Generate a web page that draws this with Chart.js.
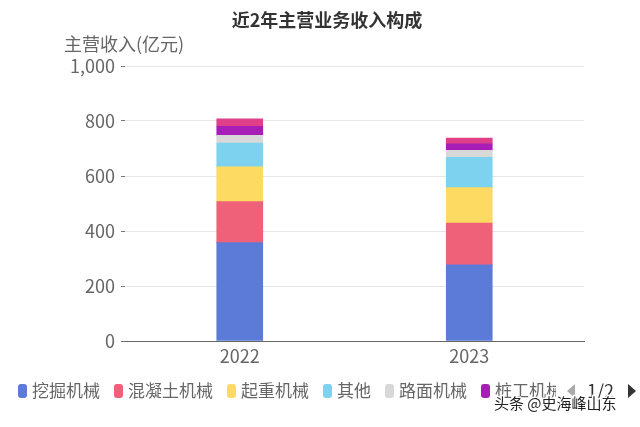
<!DOCTYPE html>
<html lang="zh">
<head>
<meta charset="UTF-8">
<title>近2年主营业务收入构成</title>
<style>
    body { margin: 0; padding: 0; background: #fff; }
    #wrap { width: 640px; height: 427px; position: relative; }
</style>
</head>
<body>
<div id="wrap"><canvas id="revenueChart"></canvas></div>

<script src="https://cdn.jsdelivr.net/npm/chart.js"></script>
<script>
    // 数据 (亿元)
    var years = ['2022', '2023'];
    var seriesNames = ['挖掘机械', '混凝土机械', '起重机械', '其他', '路面机械', '桩工机械', '其他业务'];
    var excavator = [358, 277];
    var concrete = [149, 152];
    var crane = [126, 129];
    var others = [87, 110];
    var road = [28, 25];
    var pile = [33, 24];
    var misc = [27, 21];
    var yTicks = [0, 200, 400, 600, 800, 1000];
    var colors = ['#5c7bd9', '#ef6178', '#fddb62', '#7cd2ef', '#d8d8d8', '#a81fb8', '#e0408a'];

    var FONT = "'Noto Sans CJK SC', 'Noto Sans', sans-serif";
    var seriesValues = [excavator, concrete, crane, others, road, pile, misc];

    var datasets = seriesValues.map(function (vals, i) {
        return {
            label: seriesNames[i],
            data: vals,
            backgroundColor: colors[i],
            borderWidth: 0,
            barThickness: 46,
            stack: 'rev'
        };
    });

    // 标题, y轴名称, 分页图例, 水印
    var decorations = {
        id: 'decorations',
        afterDraw: function (chart) {
            var ctx = chart.ctx;
            ctx.save();

            // title
            ctx.fillStyle = '#333';
            ctx.font = 'bold 18px ' + FONT;
            ctx.textAlign = 'center';
            ctx.textBaseline = 'middle';
            ctx.fillText('近2年主营业务收入构成', 327, 20);

            // y axis name
            ctx.fillStyle = '#666';
            ctx.font = '18px ' + FONT;
            ctx.textAlign = 'left';
            ctx.fillText('主营收入(亿元)', 64, 44);

            // legend (page 1 of 2, clipped at the pager)
            ctx.save();
            ctx.beginPath();
            ctx.rect(0, 370, 556, 40);
            ctx.clip();
            ctx.font = '17px ' + FONT;
            ctx.textBaseline = 'middle';
            var x = 18, y = 391;
            chart.data.datasets.slice(0, 6).forEach(function (ds) {
                ctx.fillStyle = ds.backgroundColor;
                ctx.beginPath();
                ctx.roundRect(x, y - 7, 9, 14, 3);
                ctx.fill();
                x += 14;
                ctx.fillStyle = '#666';
                ctx.fillText(ds.label, x, y);
                x += ctx.measureText(ds.label).width + 14;
            });
            ctx.restore();

            // pager
            ctx.fillStyle = '#aaa';
            ctx.beginPath();
            ctx.moveTo(575, 384); ctx.lineTo(567, 391); ctx.lineTo(575, 398);
            ctx.closePath(); ctx.fill();
            ctx.fillStyle = '#333';
            ctx.font = '18px ' + FONT;
            ctx.textAlign = 'left';
            ctx.fillText('1/2', 587, 391);
            ctx.beginPath();
            ctx.moveTo(628, 384); ctx.lineTo(636, 391); ctx.lineTo(628, 398);
            ctx.closePath(); ctx.fill();

            // watermark
            ctx.font = '15px ' + FONT;
            ctx.lineWidth = 3;
            ctx.strokeStyle = '#fff';
            ctx.strokeText('头条 @史海峰山东', 494, 403);
            ctx.fillStyle = '#222';
            ctx.fillText('头条 @史海峰山东', 494, 403);

            ctx.restore();
        }
    };

    var ctx = document.getElementById('revenueChart').getContext('2d');
    var revenueChart = new Chart(ctx, {
        type: 'bar',
        data: { labels: years, datasets: datasets },
        options: {
            responsive: true,
            maintainAspectRatio: false,
            animation: false,
            layout: { padding: { left: 0, right: 56, top: 66, bottom: 0 } },
            plugins: {
                legend: { display: false },
                title: { display: false },
                tooltip: { enabled: false }
            },
            scales: {
                x: {
                    stacked: true,
                    grid: { display: false },
                    border: { color: '#666', width: 1 },
                    ticks: { color: '#666', font: { family: FONT, size: 18 }, padding: -4 },
                    afterFit: function (s) { s.height = 86; }
                },
                y: {
                    stacked: true,
                    min: 0,
                    max: 1000,
                    afterBuildTicks: function (s) {
                        s.ticks = yTicks.map(function (v) { return { value: v }; });
                    },
                    grid: { color: '#e6e6e6', tickLength: 4, tickColor: '#777' },
                    border: { display: false },
                    ticks: {
                        color: '#666',
                        font: { family: FONT, size: 18 },
                        padding: 6,
                        callback: function (v) { return v.toLocaleString('en-US'); }
                    },
                    afterFit: function (s) { s.width = 125; }
                }
            }
        },
        plugins: [decorations]
    });
</script>
</body>
</html>
